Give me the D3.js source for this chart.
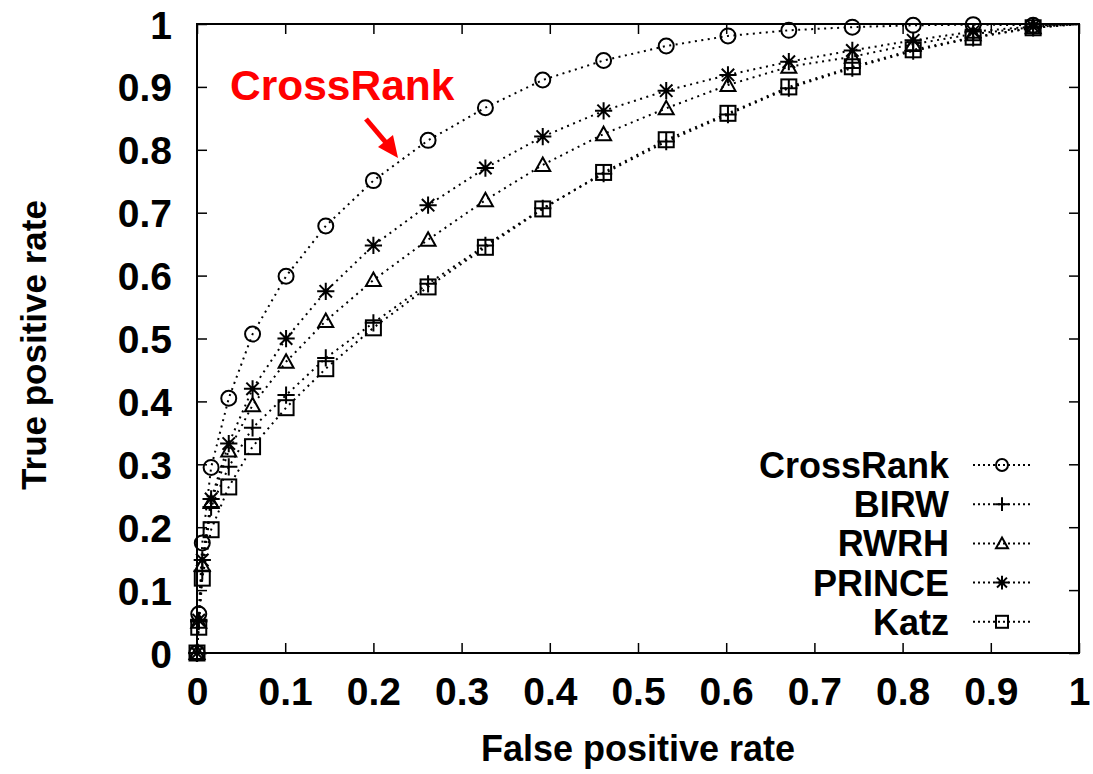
<!DOCTYPE html>
<html>
<head>
<meta charset="utf-8">
<script src="https://cdn.jsdelivr.net/npm/d3@7"></script>
<style>
  html, body { margin: 0; padding: 0; background: #fff; }
  svg { display: block; }
  text { font-family: Arial, "Liberation Sans", Helvetica, sans-serif; font-weight: bold; }
</style>
</head>
<body>
<svg id="chart" width="1093" height="774"></svg>
<script>
// ---------------- data ----------------
const fpr = [0, 0.002, 0.006, 0.016, 0.036, 0.063, 0.101, 0.146, 0.200, 0.262, 0.327, 0.392, 0.461, 0.532, 0.602, 0.671, 0.743, 0.812, 0.880, 0.948, 1];
const seriesNames = ["CrossRank", "BIRW", "RWRH", "PRINCE", "Katz"];
const seriesSymbols = ["circle", "plus", "triangle", "star", "square"];
const crossRank = [0, 0.062, 0.175, 0.295, 0.405, 0.507, 0.599, 0.679, 0.751, 0.815, 0.867, 0.911, 0.942, 0.965, 0.981, 0.990, 0.995, 0.998, 0.999, 0.998, 1];
const birw      = [0, 0.050, 0.130, 0.232, 0.296, 0.358, 0.410, 0.469, 0.525, 0.587, 0.648, 0.707, 0.762, 0.813, 0.856, 0.898, 0.930, 0.957, 0.978, 0.994, 1];
const rwrh      = [0, 0.050, 0.140, 0.240, 0.322, 0.394, 0.463, 0.528, 0.593, 0.657, 0.720, 0.776, 0.825, 0.866, 0.903, 0.932, 0.948, 0.968, 0.984, 0.995, 1];
const prince    = [0, 0.052, 0.148, 0.245, 0.333, 0.420, 0.500, 0.575, 0.648, 0.712, 0.771, 0.821, 0.862, 0.894, 0.919, 0.940, 0.958, 0.974, 0.988, 0.996, 1];
const katz      = [0, 0.041, 0.119, 0.196, 0.264, 0.328, 0.390, 0.452, 0.517, 0.582, 0.645, 0.706, 0.764, 0.816, 0.858, 0.900, 0.932, 0.959, 0.979, 0.994, 1];
const seriesValues = [crossRank, birw, rwrh, prince, katz];
const xTicks = [0, 0.1, 0.2, 0.3, 0.4, 0.5, 0.6, 0.7, 0.8, 0.9, 1];
const yTicks = [0, 0.1, 0.2, 0.3, 0.4, 0.5, 0.6, 0.7, 0.8, 0.9, 1];
const xTitle = "False positive rate";
const yTitle = "True positive rate";
const annotation = "CrossRank";

// ---------------- layout ----------------
const L = 197, R = 1079, T = 24, B = 653;
const svg = d3.select("#chart");
const x = d3.scaleLinear().domain([0, 1]).range([L, R]);
const y = d3.scaleLinear().domain([0, 1]).range([B, T]);
const fmt = d => d === 0 ? "0" : d === 1 ? "1" : d3.format(".1f")(d);

// axes with inward ticks on all four sides
function styleAxis(g) {
  g.select(".domain").remove();
  g.selectAll(".tick line").attr("stroke", "#000").attr("stroke-width", 1.5);
}
svg.append("g").attr("transform", `translate(0,${B})`)
  .call(d3.axisBottom(x).tickValues(xTicks).tickSize(-10).tickPadding(24).tickFormat(fmt))
  .call(styleAxis)
  .call(g => g.selectAll("text").attr("font-size", 39).attr("fill", "#000")
    .attr("font-family", "Arial, 'Liberation Sans', sans-serif").attr("font-weight", "bold")
    .attr("dy", "0.71em"));
svg.append("g").attr("transform", `translate(0,${T})`)
  .call(d3.axisTop(x).tickValues(xTicks).tickSize(-10).tickFormat(""))
  .call(styleAxis);
svg.append("g").attr("transform", `translate(${L},0)`)
  .call(d3.axisLeft(y).tickValues(yTicks).tickSize(-10).tickPadding(25).tickFormat(fmt))
  .call(styleAxis)
  .call(g => g.selectAll("text").attr("font-size", 39).attr("fill", "#000")
    .attr("font-family", "Arial, 'Liberation Sans', sans-serif").attr("font-weight", "bold")
    .attr("dy", "0.36em"));
svg.append("g").attr("transform", `translate(${R},0)`)
  .call(d3.axisRight(y).tickValues(yTicks).tickSize(-10).tickFormat(""))
  .call(styleAxis);

// frame
svg.append("rect").attr("x", L).attr("y", T).attr("width", R - L).attr("height", B - T)
  .attr("fill", "none").attr("stroke", "#000").attr("stroke-width", 2);

// titles
svg.append("text").attr("x", (L + R) / 2).attr("y", 761).attr("text-anchor", "middle")
  .attr("font-size", 36).attr("fill", "#000").text(xTitle);
svg.append("text").attr("transform", `translate(46,345) rotate(-90)`)
  .attr("text-anchor", "middle").attr("font-size", 35).attr("fill", "#000").text(yTitle);

// ---------------- symbols ----------------
function drawSymbol(g, type, cx, cy, s) {
  const st = {stroke: "#000", "stroke-width": 2, fill: "none"};
  let el;
  if (type === "circle") {
    el = g.append("circle").attr("cx", cx).attr("cy", cy).attr("r", s);
  } else if (type === "square") {
    el = g.append("rect").attr("x", cx - s).attr("y", cy - s).attr("width", 2 * s).attr("height", 2 * s);
  } else if (type === "triangle") {
    const h = s * 1.8;
    el = g.append("path").attr("d",
      `M${cx},${cy - h * 0.55}L${cx + s},${cy + h * 0.45}L${cx - s},${cy + h * 0.45}Z`);
  } else if (type === "plus") {
    const a = s * 1.15;
    el = g.append("path").attr("d", `M${cx - a},${cy}H${cx + a}M${cx},${cy - a}V${cy + a}`);
  } else if (type === "star") {
    const a = s * 1.15, b = a * 0.72;
    el = g.append("path").attr("d",
      `M${cx - a},${cy}H${cx + a}M${cx},${cy - a}V${cy + a}` +
      `M${cx - b},${cy - b}L${cx + b},${cy + b}M${cx - b},${cy + b}L${cx + b},${cy - b}`);
  }
  Object.entries(st).forEach(([k, v]) => el.attr(k, v));
}

// ---------------- series ----------------
const line = d3.line().x(d => x(d[0])).y(d => y(d[1]));
const plot = svg.append("g");
seriesValues.forEach((vals, i) => {
  const pts = fpr.map((f, j) => [f, vals[j]]);
  plot.append("path").datum(pts).attr("d", line)
    .attr("fill", "none").attr("stroke", "#000").attr("stroke-width", 2)
    .attr("stroke-dasharray", "2,4.5");
});
seriesValues.forEach((vals, i) => {
  const g = plot.append("g");
  fpr.forEach((f, j) => {
    if (f >= 1) return;
    drawSymbol(g, seriesSymbols[i], x(f), y(vals[j]), 7.5);
  });
});

// ---------------- legend ----------------
const legY0 = 465, legDy = 39.2;
seriesNames.forEach((name, i) => {
  const cy = legY0 + i * legDy;
  svg.append("text").attr("x", 949).attr("y", cy).attr("dy", "0.36em")
    .attr("text-anchor", "end").attr("font-size", 36).attr("fill", "#000").text(name);
  svg.append("line").attr("x1", 973).attr("x2", 1032).attr("y1", cy).attr("y2", cy)
    .attr("stroke", "#000").attr("stroke-width", 2).attr("stroke-dasharray", "2,3");
  drawSymbol(svg.append("g"), seriesSymbols[i], 1002, cy, 6);
});

// ---------------- annotation ----------------
svg.append("text").attr("x", 230).attr("y", 100).attr("font-size", 42.5)
  .attr("fill", "#ff0000").text(annotation);
svg.append("line").attr("x1", 366).attr("y1", 119).attr("x2", 388).attr("y2", 145)
  .attr("stroke", "#ff0000").attr("stroke-width", 5);
svg.append("path").attr("d", "M398,158L378,147L393,135Z").attr("fill", "#ff0000");
</script>
</body>
</html>
